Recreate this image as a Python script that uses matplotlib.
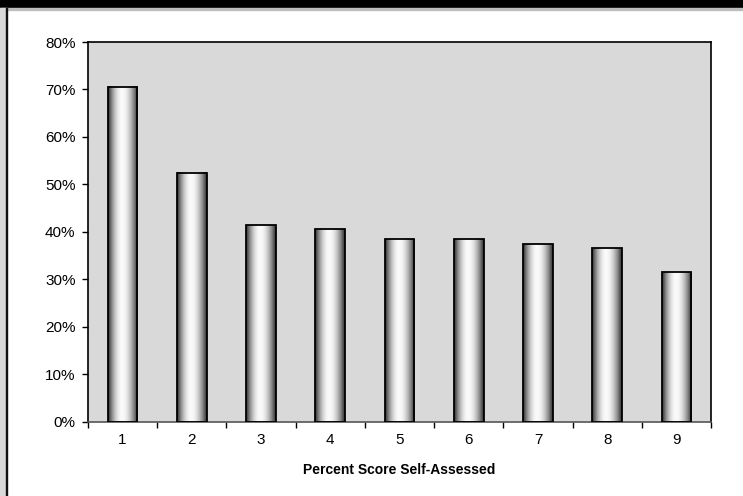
import matplotlib.pyplot as plt
import numpy as np
from matplotlib.patches import Rectangle
from matplotlib.ticker import FuncFormatter

# Values (percent)
categories = ['1', '2', '3', '4', '5', '6', '7', '8', '9']
values = [70.6, 52.5, 41.4, 40.5, 38.4, 38.4, 37.4, 36.5, 31.5]
y_ticks = [0, 10, 20, 30, 40, 50, 60, 70, 80]

W, H = 743, 496
fig = plt.figure(figsize=(W / 100, H / 100), dpi=100)
fig.patch.set_facecolor('white')
plt.rcParams['font.family'] = ['Liberation Sans', 'DejaVu Sans']

# frame decoration: black band on top, grey strip on the left
fig.add_artist(Rectangle((0, 1 - 8 / H), 1, 8 / H, transform=fig.transFigure,
                         color='black', zorder=0))
fig.add_artist(Rectangle((0, 1 - 9.5 / H), 1, 1.5 / H, transform=fig.transFigure,
                         color='#bdbdbd', zorder=0))
fig.add_artist(Rectangle((0, 0), 6 / W, 1 - 8 / H, transform=fig.transFigure,
                         color='#d9d9d9', zorder=0))
fig.add_artist(Rectangle((6 / W, 0), 1.5 / W, 1 - 8 / H, transform=fig.transFigure,
                         color='#111111', zorder=0))

left, right, top, bottom = 88, 711, 42, 421.7
ax = fig.add_axes([left / W, (H - bottom) / H, (right - left) / W, (bottom - top) / H])
ax.set_facecolor('#d9d9d9')

x = np.arange(1, len(categories) + 1)

# cylinder-like horizontal gradient, highlight a bit left of centre
t = np.linspace(0, 1, 64)
c = 0.47
d = np.where(t < c, (t - c) / c, (t - c) / (1 - c))
shade = 0.2 + 0.78 * np.clip(1 - d ** 2, 0, 1) ** 1.1
grad = np.tile(shade, (2, 1))

bw = 0.43
for xi, v in zip(x, values):
    ax.imshow(grad, cmap='gray', vmin=0, vmax=1, aspect='auto',
              extent=(xi - bw / 2, xi + bw / 2, 0, v), zorder=2,
              interpolation='bilinear')
    ax.add_patch(Rectangle((xi - bw / 2, 0), bw, v, fill=False,
                           edgecolor='black', linewidth=1.3, zorder=3))

ax.set_xlim(0.5, len(categories) + 0.5)
ax.set_ylim(0, 80)

ax.set_yticks(y_ticks)
ax.yaxis.set_major_formatter(FuncFormatter(lambda v, p: f'{int(v)}%'))
ax.set_xticks(np.arange(0.5, len(categories) + 1.5, 1))
ax.set_xticklabels([])
ax.set_xticks(x, minor=True)
ax.set_xticklabels(categories, minor=True)
ax.tick_params(axis='x', which='minor', length=0, pad=8, labelsize=11)
ax.tick_params(axis='x', which='major', length=4, width=1, direction='out')
ax.tick_params(axis='y', length=4, width=1, direction='out', labelsize=11, pad=5)

for s in ax.spines.values():
    s.set_linewidth(1.2)
    s.set_color('black')
ax.spines['bottom'].set_color('#555555')

ax.set_xlabel('Percent Score Self-Assessed', fontsize=10, fontweight='bold', labelpad=12)

fig.savefig('out.png', dpi=100)
